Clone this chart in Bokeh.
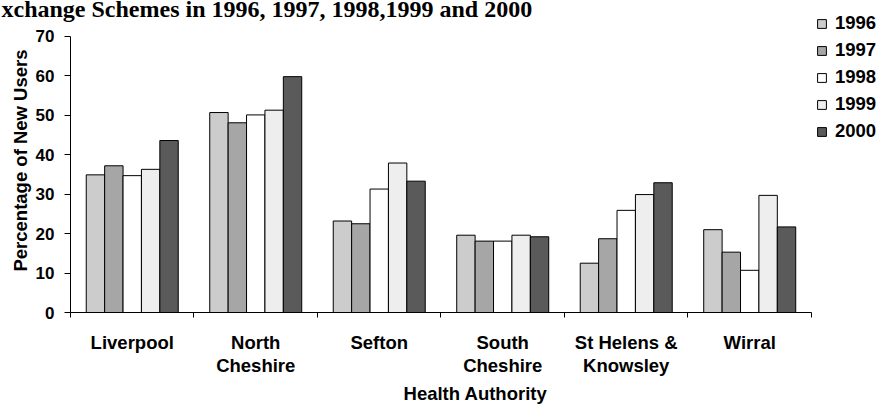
import numpy as np
from bokeh.plotting import figure
from bokeh.models import (ColumnDataSource, FixedTicker, Legend,
                          LegendItem, Range1d)
from bokeh.embed import file_html
from bokeh.resources import INLINE

title_text = "xchange Schemes in 1996, 1997, 1998,1999 and 2000"
authorities = ["Liverpool", "North\nCheshire", "Sefton", "South\nCheshire",
               "St Helens &\nKnowsley", "Wirral"]
years = ["1996", "1997", "1998", "1999", "2000"]
v1996 = [34.9, 50.7, 23.2, 19.6, 12.5, 21.0]
v1997 = [37.2, 48.1, 22.5, 18.1, 18.7, 15.3]
v1998 = [34.7, 50.1, 31.3, 18.1, 25.9, 10.7]
v1999 = [36.3, 51.3, 37.9, 19.6, 29.9, 29.7]
v2000 = [43.6, 59.8, 33.3, 19.2, 32.9, 21.7]
series = [v1996, v1997, v1998, v1999, v2000]
colors = ["#cccccc", "#a6a6a6", "#ffffff", "#eeeeee", "#5a5a5a"]
y_ticks = [0, 10, 20, 30, 40, 50, 60, 70]

FONT = "Liberation Sans"
BAR_W = 0.149

# frame spans past the axes' drawn extent so the legend fits inside it
p = figure(width=880, height=406, x_range=Range1d(0, 6.559),
           y_range=Range1d(0, 77.08),
           output_backend="svg", toolbar_location=None, title=title_text,
           min_border_left=70, min_border_right=0, min_border_top=8,
           min_border_bottom=93)
p.styles = {"position": "absolute", "top": "0px", "left": "0px"}
p.outline_line_color = None
p.background_fill_color = "white"
p.border_fill_color = "white"
p.xgrid.visible = False
p.ygrid.visible = False

p.title.align = "left"
p.title.offset = -69
p.title.vertical_align = "bottom"
p.title.standoff = -26.2
p.title.text_font = "Liberation Serif"
p.title.text_font_size = "24px"
p.title.text_font_style = "bold"
p.title.text_color = "black"

centers = np.arange(len(authorities)) + 0.5
items = []
for j, (yr, vals, col) in enumerate(zip(years, series, colors)):
    src = ColumnDataSource(dict(x=centers + (j - 2) * BAR_W, top=vals))
    r = p.vbar(x="x", top="top", bottom=0, width=BAR_W, source=src,
               fill_color=col, line_color="black", line_width=1)
    items.append(LegendItem(label=yr, renderers=[r]))

legend = Legend(items=items, location=(746, 170), orientation="vertical",
                glyph_width=11, glyph_height=11, label_standoff=8,
                label_height=22, label_text_font=FONT,
                label_text_font_size="18.5px", label_text_font_style="bold",
                label_text_color="black", spacing=5, padding=0, margin=0,
                border_line_color=None, background_fill_alpha=0)
p.add_layout(legend, "center")

# x axis
p.xaxis.ticker = FixedTicker(ticks=list(centers), minor_ticks=list(range(7)))
p.xaxis.bounds = (0, 6)
p.xaxis.major_label_overrides = {float(c): a for c, a in zip(centers, authorities)}
p.xaxis.major_tick_out = 0
p.xaxis.major_tick_in = 0
p.xaxis.minor_tick_out = 5
p.xaxis.minor_tick_in = 0
p.xaxis.major_label_standoff = 14
p.xaxis.major_label_text_font = FONT
p.xaxis.major_label_text_font_size = "18.5px"
p.xaxis.major_label_text_font_style = "bold"
p.xaxis.major_label_text_color = "black"
p.xaxis.major_label_text_line_height = 1.11
p.xaxis.axis_label = "Health Authority"
p.xaxis.axis_label_text_font = FONT
p.xaxis.axis_label_text_font_size = "18.5px"
p.xaxis.axis_label_text_font_style = "bold"
p.xaxis.axis_label_text_color = "black"
p.xaxis.axis_label_standoff = 4
p.xaxis.axis_line_color = "black"
p.xaxis.minor_tick_line_color = "black"

# y axis
p.yaxis.ticker = FixedTicker(ticks=y_ticks, minor_ticks=[])
p.yaxis.bounds = (0, 70)
p.yaxis.major_tick_out = 6
p.yaxis.major_tick_in = 0
p.yaxis.minor_tick_out = 0
p.yaxis.minor_tick_in = 0
p.yaxis.major_label_standoff = 10
p.yaxis.major_label_text_font = FONT
p.yaxis.major_label_text_font_size = "17px"
p.yaxis.major_label_text_font_style = "bold"
p.yaxis.major_label_text_color = "black"
p.yaxis.axis_label = "Percentage of New Users"
p.yaxis.axis_label_text_font = FONT
p.yaxis.axis_label_text_font_size = "18.5px"
p.yaxis.axis_label_text_font_style = "bold"
p.yaxis.axis_label_text_color = "black"
p.yaxis.axis_label_standoff = 2
p.yaxis.axis_line_color = "black"
p.yaxis.major_tick_line_color = "black"

open("out.html", "w").write(file_html(p, INLINE))
